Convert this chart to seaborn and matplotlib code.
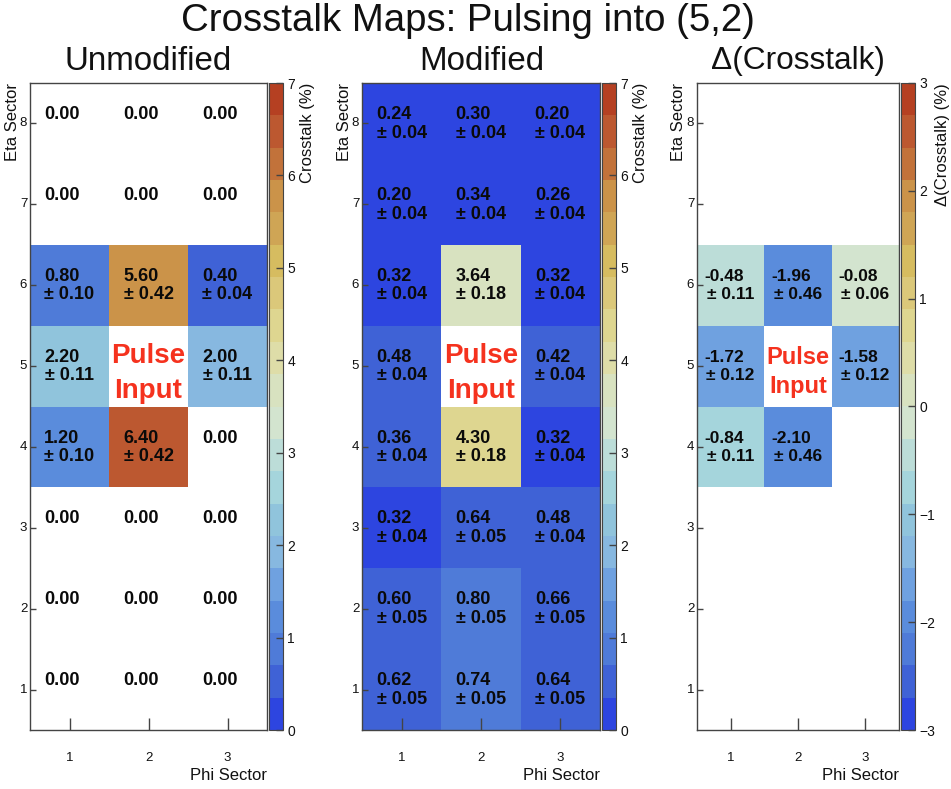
import numpy as np
import pandas as pd
import seaborn as sns
import matplotlib
matplotlib.use("Agg")
import matplotlib.pyplot as plt
from matplotlib.colors import ListedColormap

sns.set_theme(style="white")
plt.rcParams['font.family'] = ['Liberation Sans', 'DejaVu Sans']
plt.rcParams['axes.unicode_minus'] = True
plt.rcParams['axes.axisbelow'] = False

W, H = 951, 789

eta = [8, 7, 6, 5, 4, 3, 2, 1]
phi = [1, 2, 3]

unmod_val = [[0.00, 0.00, 0.00], [0.00, 0.00, 0.00], [0.80, 5.60, 0.40], [2.20, np.nan, 2.00],
             [1.20, 6.40, 0.00], [0.00, 0.00, 0.00], [0.00, 0.00, 0.00], [0.00, 0.00, 0.00]]
unmod_err = [[0, 0, 0], [0, 0, 0], [0.10, 0.42, 0.04], [0.11, np.nan, 0.11],
             [0.10, 0.42, 0], [0, 0, 0], [0, 0, 0], [0, 0, 0]]
mod_val = [[0.24, 0.30, 0.20], [0.20, 0.34, 0.26], [0.32, 3.64, 0.32], [0.48, np.nan, 0.42],
           [0.36, 4.30, 0.32], [0.32, 0.64, 0.48], [0.60, 0.80, 0.66], [0.62, 0.74, 0.64]]
mod_err = [[0.04, 0.04, 0.04], [0.04, 0.04, 0.04], [0.04, 0.18, 0.04], [0.04, np.nan, 0.04],
           [0.04, 0.18, 0.04], [0.04, 0.05, 0.04], [0.05, 0.05, 0.05], [0.05, 0.05, 0.05]]
delta_val = [[0, 0, 0], [0, 0, 0], [-0.48, -1.96, -0.08], [-1.72, np.nan, -1.58],
             [-0.84, -2.10, 0], [0, 0, 0], [0, 0, 0], [0, 0, 0]]
delta_err = [[0, 0, 0], [0, 0, 0], [0.11, 0.46, 0.06], [0.12, np.nan, 0.12],
             [0.11, 0.46, 0], [0, 0, 0], [0, 0, 0], [0, 0, 0]]

level_colors = ['#2D45E0', '#3F62D6', '#4F7BD8', '#5A8CDC', '#6FA1E0', '#87B8E0', '#90C4DC',
                '#A5D5DC', '#BCDDD8', '#D3E4CF', '#D8E2C0', '#DEDDA8', '#DED690', '#DBC87A',
                '#D6BC60', '#CFA555', '#CB9349', '#C2723A', '#BC5830', '#B54022']
cmap = ListedColormap(level_colors)
cmap.set_bad('white')

RED = '#F5321E'
INK = '#111111'
EDGE = '#444444'


def px_axes(x0, y0, x1, y1):
    return fig.add_axes([x0 / W, 1 - y1 / H, (x1 - x0) / W, (y1 - y0) / H])


def panel(x0, x1, cx0, cx1, vals, errs, vmin, vmax, cticks, clabel, title, title_x, title_size,
          blank_zero, num_size, pulse_size, pulse_c, pulse_dy, label_x, clabel_x, show_zero_text):
    ax = px_axes(x0, 83, x1, 730)
    cax = px_axes(cx0, 83, cx1, 730)
    v = np.array(vals, dtype=float)
    e = np.array(errs, dtype=float)
    mask = np.isnan(v) | ((v == 0) if blank_zero else np.zeros_like(v, dtype=bool))
    df = pd.DataFrame(v + 1e-9, index=eta, columns=phi)
    sns.heatmap(df, ax=ax, cbar_ax=cax, cmap=cmap, vmin=vmin, vmax=vmax, mask=mask,
                linewidths=0, cbar_kws={'ticks': cticks})
    for s in ax.spines.values():
        s.set_visible(True)
        s.set_color(EDGE)
        s.set_linewidth(1.0)
    ax.tick_params(axis='x', direction='in', length=9, width=1, color=EDGE, pad=16,
                   labelsize=9.5, labelcolor=INK, bottom=True, labelrotation=0)
    ax.tick_params(axis='y', direction='in', length=4, width=1, color=EDGE, pad=2,
                   labelsize=9.5, labelcolor=INK, left=True, labelrotation=0)
    ax.set_xlabel('Phi Sector', fontsize=12, color=INK, ha='right')
    ax.xaxis.set_label_coords(1.0, -0.058)
    ax.set_ylabel('Eta Sector', fontsize=12, color=INK, ha='right')
    ax.yaxis.set_label_coords(label_x, 1.0)
    fig.text(title_x / W, 1 - 61 / H, title, fontsize=title_size, ha='center', va='center', color=INK)

    cax.tick_params(axis='y', direction='in', length=5, width=1, color=EDGE, pad=3,
                    labelsize=10, labelcolor=INK, right=True)
    cb = ax.collections[0].colorbar
    cb.outline.set_edgecolor(EDGE)
    cb.outline.set_linewidth(0.8)
    cax.set_ylabel(clabel, fontsize=12, color=INK, ha='right', rotation=90)
    cax.yaxis.set_label_coords(clabel_x, 1.0)

    for r in range(v.shape[0]):
        for c in range(v.shape[1]):
            if np.isnan(v[r, c]):
                ax.text(c + 0.5, r + 0.5 + pulse_c - pulse_dy, 'Pulse', color=RED, fontsize=pulse_size,
                        fontweight='bold', ha='center', va='center')
                ax.text(c + 0.5, r + 0.5 + pulse_c + pulse_dy, 'Input', color=RED, fontsize=pulse_size,
                        fontweight='bold', ha='center', va='center')
                continue
            if v[r, c] == 0 and not show_zero_text:
                continue
            ax.text(c + 0.5 - 0.1, r + 0.39, f'{v[r, c]:.2f}', color='#0A0A0A', fontsize=num_size,
                    fontweight='bold', ha='center', va='center')
            if e[r, c] > 0:
                ax.text(c + 0.5, r + 0.62, f'± {e[r, c]:.2f}', color='#0A0A0A', fontsize=num_size,
                        fontweight='bold', ha='center', va='center')
    return ax


fig = plt.figure(figsize=(W / 100, H / 100), dpi=100, facecolor='white')
fig.text(468 / W, 1 - 21 / H, 'Crosstalk Maps: Pulsing into (5,2)', fontsize=27.6, ha='center',
         va='center', color=INK)

panel(30, 267, 269, 283, unmod_val, unmod_err, 0, 7, [0, 1, 2, 3, 4, 5, 6, 7], 'Crosstalk (%)',
      'Unmodified', 148, 23.9, True, 13, 20, 0.09, 0.215, -0.042, 2.2, True)
panel(362, 600, 602, 616, mod_val, mod_err, 0, 7, [0, 1, 2, 3, 4, 5, 6, 7], 'Crosstalk (%)',
      'Modified', 482, 23.9, False, 13, 20, 0.09, 0.215, -0.042, 2.2, True)
panel(697, 899, 901, 915, delta_val, delta_err, -3, 3, [-3, -2, -1, 0, 1, 2, 3], 'Δ(Crosstalk) (%)',
      'Δ(Crosstalk)', 798, 22.8, True, 12.5, 17, 0.075, 0.18, -0.054, 2.4, False)

fig.savefig('out.png', dpi=100)
